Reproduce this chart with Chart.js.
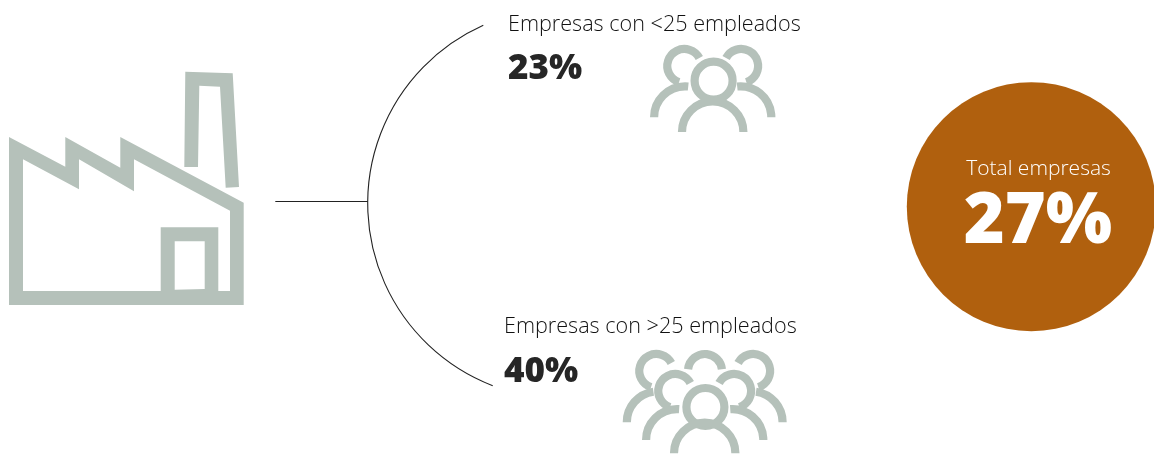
<!DOCTYPE html>
<html lang="es">
<head>
<meta charset="utf-8">
<title>Empresas por tamaño</title>
<script src="https://cdn.jsdelivr.net/npm/chart.js@4/dist/chart.umd.min.js"></script>
<style>
html,body{margin:0;padding:0;background:#fff}
canvas{display:block}
</style>
</head>
<body>
<canvas id="c" width="1154" height="454"></canvas>
<script>
// Share of companies, by workforce size and overall
const groupLabels = ['Empresas con <25 empleados', 'Empresas con >25 empleados'];
const groupShares = [23, 40];
const totalLabels = ['Total empresas'];
const totalShares = [27];

const ICON = '#b5c1ba';
const INK = '#262626';
const RUST = '#b0600e';
const FACE = '"Open Sans", "Noto Sans", sans-serif';
const rad = d => d * Math.PI / 180;

function polygon(ctx, pts) {
  pts.forEach((p, i) => i ? ctx.lineTo(p[0], p[1]) : ctx.moveTo(p[0], p[1]));
  ctx.closePath();
}

function drawFactory(ctx) {
  ctx.fillStyle = ICON;
  ctx.beginPath();
  polygon(ctx, [[9,137],[65.3,166.7],[65.3,137],[120.3,167.7],[120.3,137],[243.7,202.7],[243.7,305],[9,305]]);
  polygon(ctx, [[23,159.3],[79,189.3],[79,159.3],[134,191.3],[134,159.3],[230,210.7],[230,291],[218.3,291],
                [218.3,227.3],[160.7,227.3],[160.7,291],[23,291]]);
  polygon(ctx, [[174.7,241.3],[204.7,241.3],[204.7,289],[174.7,289.7]]);
  ctx.fill('evenodd');
  ctx.beginPath();
  polygon(ctx, [[185.3,71.7],[232.7,73.3],[239,187],[225.7,187.7],[220,86.7],[199.3,85.7],[198,167],[184.3,167]]);
  ctx.fill();
}

function stroke(ctx, x, y, r, a0, a1) {
  ctx.beginPath();
  ctx.arc(x, y, r, rad(a0), rad(a1));
  ctx.stroke();
}

// One figure: head ring plus shoulder arc. Flanking figures are cut where the front ones overlap them.
function figure(ctx, f, axis, mirror) {
  const mx = x => mirror ? 2 * axis - x : x;
  const span = (a0, a1) => mirror ? [180 - a1, 180 - a0] : [a0, a1];
  const h = span(f.head[0], f.head[1]);
  stroke(ctx, mx(f.hx), f.hy, f.hr, h[0], h[1]);
  if (f.body) {
    const s = span(f.body[0], f.body[1]);
    stroke(ctx, mx(f.bx), f.by, f.br, s[0], s[1]);
  }
}

function drawPeople(ctx, axis, figures, weight) {
  ctx.strokeStyle = ICON;
  ctx.lineWidth = weight;
  ctx.lineCap = 'butt';
  figures.forEach(f => {
    figure(ctx, f, axis, false);
    if (f.side) figure(ctx, f, axis, true);
  });
}

const smallTeam = [
  {hx:713.6, hy:80.7, hr:19, head:[0,360],   bx:712.7, by:132,   br:30.7, body:[180,360]},
  {hx:684.3, hy:66,   hr:17, head:[108,332], bx:685,   by:117.2, br:30.9, body:[180,276], side:true}
];
const largeTeam = [
  {hx:705.4, hy:407,  hr:19, head:[0,360],   bx:704.7, by:453.3, br:30.7, body:[180,360]},
  {hx:675.3, hy:391,  hr:17, head:[108,332], bx:677,   by:440,   br:30.9, body:[180,274], side:true},
  {hx:656.3, hy:371,  hr:17, head:[108,332], bx:657.7, by:422.3, br:30.9, body:[180,262], side:true},
  {hx:705,   hy:371,  hr:17, head:[186,354]}
];

function drawBracket(ctx) {
  const cx = 562.9, cy = 203.5, R = 195.2;
  ctx.strokeStyle = '#222';
  ctx.lineWidth = 1.1;
  ctx.beginPath();
  ctx.arc(cx, cy, R, Math.atan2(25.3 - cy, 483.3 - cx) + 2 * Math.PI, Math.atan2(385.7 - cy, 492.7 - cx), true);
  ctx.stroke();
  ctx.beginPath();
  ctx.moveTo(275.3, 201.5);
  ctx.lineTo(367.7, 201.5);
  ctx.stroke();
}

function text(ctx, str, x, y, font, colour, align) {
  ctx.font = font;
  ctx.fillStyle = colour;
  ctx.textAlign = align || 'left';
  ctx.textBaseline = 'alphabetic';
  ctx.fillText(str, x, y);
}

const infographic = {
  id: 'infographic',
  afterDatasetsDraw(chart) {
    const ctx = chart.ctx;
    ctx.save();
    drawFactory(ctx);
    drawBracket(ctx);
    drawPeople(ctx, 712.7, smallTeam, 8.2);
    drawPeople(ctx, 704.7, largeTeam, 8.2);

    const light = '300 21.6px ' + FACE;
    const heavy = '800 35px ' + FACE;
    text(ctx, groupLabels[0], 508, 31, light, '#111');
    text(ctx, groupShares[0] + '%', 508, 79, heavy, INK);
    text(ctx, groupLabels[1], 504, 333, light, '#111');
    text(ctx, groupShares[1] + '%', 504, 382, heavy, INK);

    text(ctx, totalLabels[0], 1038.5, 175, '300 21px ' + FACE, '#fff', 'center');
    text(ctx, totalShares[0] + '%', 1038, 243, '800 70px ' + FACE, '#fff', 'center');
    ctx.restore();
  }
};

new Chart(document.getElementById('c'), {
  type: 'bubble',
  data: {
    labels: totalLabels,
    datasets: [{
      label: totalLabels[0],
      data: [{x: 1031.3, y: 206.7, r: 124.5}],
      backgroundColor: RUST,
      borderWidth: 0,
      hoverRadius: 0,
      clip: false
    }]
  },
  options: {
    responsive: false,
    animation: false,
    devicePixelRatio: 1,
    layout: {padding: 0, autoPadding: false},
    plugins: {legend: {display: false}, title: {display: false}, tooltip: {enabled: false}},
    events: [],
    scales: {
      x: {type: 'linear', display: false, min: 0, max: 1154},
      y: {type: 'linear', display: false, min: 0, max: 454, reverse: true}
    }
  },
  plugins: [infographic]
});
</script>
</body>
</html>
